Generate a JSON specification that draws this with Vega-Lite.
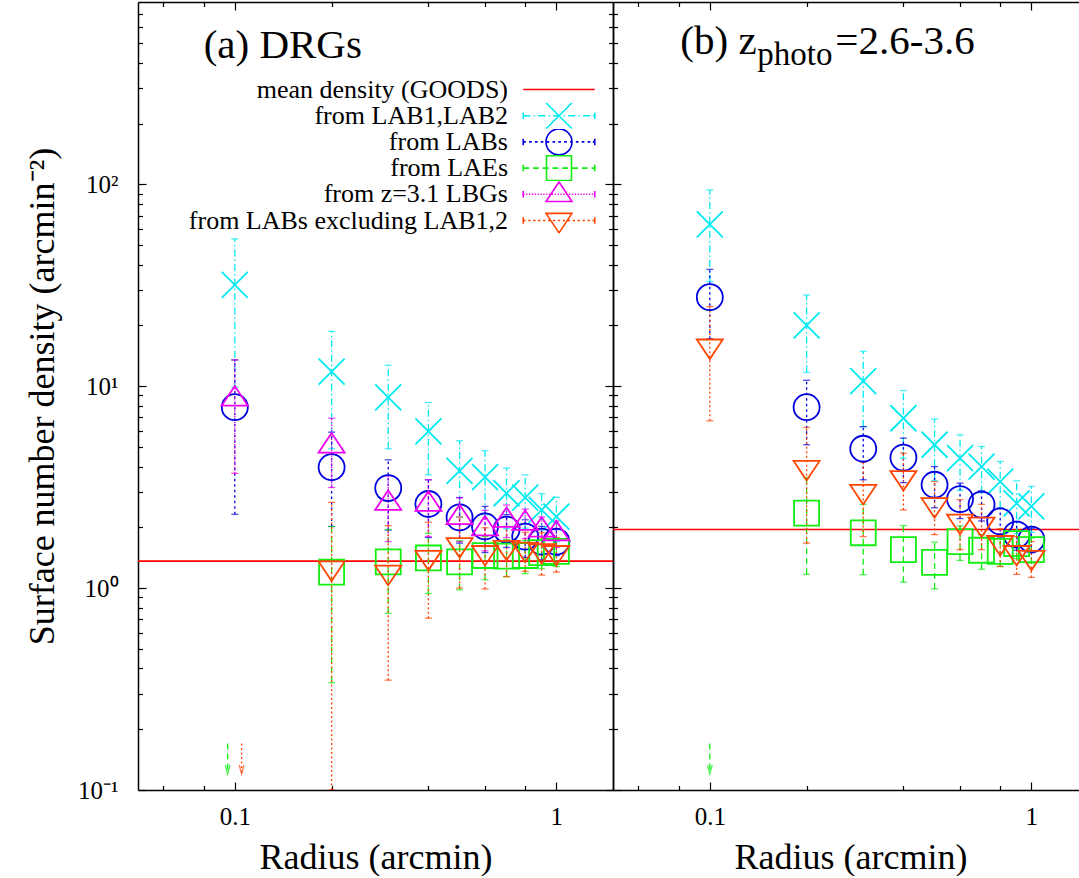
{
  "$schema": "https://vega.github.io/schema/vega-lite/v6.json",
  "background": "white",
  "padding": {"left": 24, "top": 1, "right": 0, "bottom": 0},
  "autosize": {"type": "pad"},
  "spacing": 0,
  "bounds": "flush",
  "datasets": {
    "mean": [
      {"p": "a", "s": "mean density (GOODS)", "n": 1.36},
      {"p": "b", "s": "mean density (GOODS)", "n": 1.95}
    ],
    "arrows": [
      {"p": "a", "s": "from LAEs", "r": 0.095, "top": 0.17, "tip": 0.12},
      {"p": "a", "s": "from LABs excluding LAB1,2", "r": 0.105, "top": 0.17, "tip": 0.12},
      {"p": "b", "s": "from LAEs", "r": 0.1, "top": 0.17, "tip": 0.12}
    ],
    "pts": [
      {"p": "a", "s": "from LAB1,LAB2", "r": 0.1, "n": 31.8, "lo": 9.9, "hi": 53.7},
      {"p": "a", "s": "from LAB1,LAB2", "r": 0.2, "n": 11.8, "lo": 4.9, "hi": 18.7},
      {"p": "a", "s": "from LAB1,LAB2", "r": 0.3, "n": 8.8, "lo": 4.9, "hi": 12.7},
      {"p": "a", "s": "from LAB1,LAB2", "r": 0.4, "n": 5.97, "lo": 3.64, "hi": 8.3},
      {"p": "a", "s": "from LAB1,LAB2", "r": 0.5, "n": 3.81, "lo": 2.25, "hi": 5.37},
      {"p": "a", "s": "from LAB1,LAB2", "r": 0.6, "n": 3.55, "lo": 2.31, "hi": 4.79},
      {"p": "a", "s": "from LAB1,LAB2", "r": 0.7, "n": 2.95, "lo": 1.97, "hi": 3.93},
      {"p": "a", "s": "from LAB1,LAB2", "r": 0.8, "n": 2.81, "lo": 1.98, "hi": 3.64},
      {"p": "a", "s": "from LAB1,LAB2", "r": 0.9, "n": 2.44, "lo": 1.94, "hi": 2.94},
      {"p": "a", "s": "from LAB1,LAB2", "r": 1.0, "n": 2.26, "lo": 1.7, "hi": 2.82},
      {"p": "a", "s": "from LABs", "r": 0.1, "n": 7.87, "lo": 2.32, "hi": 13.5},
      {"p": "a", "s": "from LABs", "r": 0.2, "n": 3.97, "lo": 2.02, "hi": 5.92},
      {"p": "a", "s": "from LABs", "r": 0.3, "n": 3.13, "lo": 1.94, "hi": 4.32},
      {"p": "a", "s": "from LABs", "r": 0.4, "n": 2.61, "lo": 1.78, "hi": 3.44},
      {"p": "a", "s": "from LABs", "r": 0.5, "n": 2.24, "lo": 1.67, "hi": 2.81},
      {"p": "a", "s": "from LABs", "r": 0.6, "n": 2.02, "lo": 1.5, "hi": 2.54},
      {"p": "a", "s": "from LABs", "r": 0.7, "n": 1.95, "lo": 1.59, "hi": 2.31},
      {"p": "a", "s": "from LABs", "r": 0.8, "n": 1.8, "lo": 1.42, "hi": 2.18},
      {"p": "a", "s": "from LABs", "r": 0.9, "n": 1.7, "lo": 1.38, "hi": 2.02},
      {"p": "a", "s": "from LABs", "r": 1.0, "n": 1.7, "lo": 1.45, "hi": 1.95},
      {"p": "a", "s": "from LAEs", "r": 0.2, "n": 1.2, "lo": 0.34, "hi": 2.02},
      {"p": "a", "s": "from LAEs", "r": 0.3, "n": 1.35, "lo": 0.75, "hi": 1.95},
      {"p": "a", "s": "from LAEs", "r": 0.4, "n": 1.41, "lo": 0.94, "hi": 1.87},
      {"p": "a", "s": "from LAEs", "r": 0.5, "n": 1.35, "lo": 0.98, "hi": 1.72},
      {"p": "a", "s": "from LAEs", "r": 0.6, "n": 1.45, "lo": 1.1, "hi": 1.8},
      {"p": "a", "s": "from LAEs", "r": 0.7, "n": 1.44, "lo": 1.14, "hi": 1.74},
      {"p": "a", "s": "from LAEs", "r": 0.8, "n": 1.45, "lo": 1.18, "hi": 1.72},
      {"p": "a", "s": "from LAEs", "r": 0.9, "n": 1.5, "lo": 1.25, "hi": 1.75},
      {"p": "a", "s": "from LAEs", "r": 1.0, "n": 1.52, "lo": 1.28, "hi": 1.76},
      {"p": "a", "s": "from z=3.1 LBGs", "r": 0.1, "n": 8.7, "lo": 3.7, "hi": 13.5},
      {"p": "a", "s": "from z=3.1 LBGs", "r": 0.2, "n": 5.09, "lo": 3.15, "hi": 6.94},
      {"p": "a", "s": "from z=3.1 LBGs", "r": 0.3, "n": 2.65, "lo": 1.7, "hi": 3.6},
      {"p": "a", "s": "from z=3.1 LBGs", "r": 0.4, "n": 2.62, "lo": 1.8, "hi": 3.44},
      {"p": "a", "s": "from z=3.1 LBGs", "r": 0.5, "n": 2.25, "lo": 1.7, "hi": 2.8},
      {"p": "a", "s": "from z=3.1 LBGs", "r": 0.6, "n": 1.98, "lo": 1.53, "hi": 2.43},
      {"p": "a", "s": "from z=3.1 LBGs", "r": 0.7, "n": 2.18, "lo": 1.78, "hi": 2.58},
      {"p": "a", "s": "from z=3.1 LBGs", "r": 0.8, "n": 2.11, "lo": 1.76, "hi": 2.46},
      {"p": "a", "s": "from z=3.1 LBGs", "r": 0.9, "n": 1.95, "lo": 1.65, "hi": 2.25},
      {"p": "a", "s": "from z=3.1 LBGs", "r": 1.0, "n": 1.87, "lo": 1.59, "hi": 2.15},
      {"p": "a", "s": "from LABs excluding LAB1,2", "r": 0.2, "n": 1.25, "lo": 0.1, "hi": 2.66},
      {"p": "a", "s": "from LABs excluding LAB1,2", "r": 0.3, "n": 1.19, "lo": 0.35, "hi": 2.04},
      {"p": "a", "s": "from LABs excluding LAB1,2", "r": 0.4, "n": 1.41, "lo": 0.71, "hi": 2.12},
      {"p": "a", "s": "from LABs excluding LAB1,2", "r": 0.5, "n": 1.63, "lo": 1.0, "hi": 2.25},
      {"p": "a", "s": "from LABs excluding LAB1,2", "r": 0.6, "n": 1.49, "lo": 0.99, "hi": 1.99},
      {"p": "a", "s": "from LABs excluding LAB1,2", "r": 0.7, "n": 1.58, "lo": 1.14, "hi": 2.02},
      {"p": "a", "s": "from LABs excluding LAB1,2", "r": 0.8, "n": 1.55, "lo": 1.21, "hi": 1.89},
      {"p": "a", "s": "from LABs excluding LAB1,2", "r": 0.9, "n": 1.52, "lo": 1.16, "hi": 1.88},
      {"p": "a", "s": "from LABs excluding LAB1,2", "r": 1.0, "n": 1.49, "lo": 1.2, "hi": 1.78},
      {"p": "b", "s": "from LAB1,LAB2", "r": 0.1, "n": 63.4, "lo": 33, "hi": 93.8},
      {"p": "b", "s": "from LAB1,LAB2", "r": 0.2, "n": 20, "lo": 11.7, "hi": 28.3},
      {"p": "b", "s": "from LAB1,LAB2", "r": 0.3, "n": 10.6, "lo": 6.3, "hi": 14.9},
      {"p": "b", "s": "from LAB1,LAB2", "r": 0.4, "n": 6.94, "lo": 4.4, "hi": 9.52},
      {"p": "b", "s": "from LAB1,LAB2", "r": 0.5, "n": 5.13, "lo": 3.4, "hi": 6.87},
      {"p": "b", "s": "from LAB1,LAB2", "r": 0.6, "n": 4.4, "lo": 3.05, "hi": 5.75},
      {"p": "b", "s": "from LAB1,LAB2", "r": 0.7, "n": 4.0, "lo": 2.97, "hi": 5.03},
      {"p": "b", "s": "from LAB1,LAB2", "r": 0.8, "n": 3.37, "lo": 2.5, "hi": 4.24},
      {"p": "b", "s": "from LAB1,LAB2", "r": 0.9, "n": 2.63, "lo": 1.86, "hi": 3.4},
      {"p": "b", "s": "from LAB1,LAB2", "r": 1.0, "n": 2.54, "lo": 1.89, "hi": 3.19},
      {"p": "b", "s": "from LABs", "r": 0.1, "n": 27.6, "lo": 17.2, "hi": 37.9},
      {"p": "b", "s": "from LABs", "r": 0.2, "n": 7.87, "lo": 5.13, "hi": 10.7},
      {"p": "b", "s": "from LABs", "r": 0.3, "n": 4.9, "lo": 3.44, "hi": 6.31},
      {"p": "b", "s": "from LABs", "r": 0.4, "n": 4.43, "lo": 3.33, "hi": 5.53},
      {"p": "b", "s": "from LABs", "r": 0.5, "n": 3.25, "lo": 2.5, "hi": 4.0},
      {"p": "b", "s": "from LABs", "r": 0.6, "n": 2.76, "lo": 2.21, "hi": 3.31},
      {"p": "b", "s": "from LABs", "r": 0.7, "n": 2.59, "lo": 2.15, "hi": 3.03},
      {"p": "b", "s": "from LABs", "r": 0.8, "n": 2.14, "lo": 1.79, "hi": 2.49},
      {"p": "b", "s": "from LABs", "r": 0.9, "n": 1.84, "lo": 1.54, "hi": 2.14},
      {"p": "b", "s": "from LABs", "r": 1.0, "n": 1.74, "lo": 1.5, "hi": 1.98},
      {"p": "b", "s": "from LAEs", "r": 0.2, "n": 2.35, "lo": 1.17, "hi": 3.53},
      {"p": "b", "s": "from LAEs", "r": 0.3, "n": 1.88, "lo": 1.165, "hi": 2.6},
      {"p": "b", "s": "from LAEs", "r": 0.4, "n": 1.55, "lo": 1.07, "hi": 2.04},
      {"p": "b", "s": "from LAEs", "r": 0.5, "n": 1.34, "lo": 0.99, "hi": 1.69},
      {"p": "b", "s": "from LAEs", "r": 0.6, "n": 1.7, "lo": 1.37, "hi": 2.03},
      {"p": "b", "s": "from LAEs", "r": 0.7, "n": 1.54, "lo": 1.24, "hi": 1.84},
      {"p": "b", "s": "from LAEs", "r": 0.8, "n": 1.52, "lo": 1.28, "hi": 1.76},
      {"p": "b", "s": "from LAEs", "r": 0.9, "n": 1.66, "lo": 1.4, "hi": 1.92},
      {"p": "b", "s": "from LAEs", "r": 1.0, "n": 1.55, "lo": 1.33, "hi": 1.77},
      {"p": "b", "s": "from LABs excluding LAB1,2", "r": 0.1, "n": 15.7, "lo": 6.74, "hi": 24.8},
      {"p": "b", "s": "from LABs excluding LAB1,2", "r": 0.2, "n": 3.93, "lo": 1.67, "hi": 6.25},
      {"p": "b", "s": "from LABs excluding LAB1,2", "r": 0.3, "n": 2.99, "lo": 1.8, "hi": 4.2},
      {"p": "b", "s": "from LABs excluding LAB1,2", "r": 0.4, "n": 3.5, "lo": 2.44, "hi": 4.66},
      {"p": "b", "s": "from LABs excluding LAB1,2", "r": 0.5, "n": 2.57, "lo": 1.84, "hi": 3.37},
      {"p": "b", "s": "from LABs excluding LAB1,2", "r": 0.6, "n": 2.13, "lo": 1.55, "hi": 2.74},
      {"p": "b", "s": "from LABs excluding LAB1,2", "r": 0.7, "n": 2.06, "lo": 1.55, "hi": 2.6},
      {"p": "b", "s": "from LABs excluding LAB1,2", "r": 0.8, "n": 1.67, "lo": 1.28, "hi": 1.97},
      {"p": "b", "s": "from LABs excluding LAB1,2", "r": 0.9, "n": 1.49, "lo": 1.17, "hi": 1.8},
      {"p": "b", "s": "from LABs excluding LAB1,2", "r": 1.0, "n": 1.41, "lo": 1.13, "hi": 1.7}
    ]
  },
  "hconcat": [
    {
      "width": 475,
      "height": 788,
      "layer": [
        {
          "data": {"name": "mean"},
          "transform": [{"filter": "datum.p == 'a'"}],
          "mark": {"type": "rule", "strokeWidth": 1.6, "clip": true},
          "encoding": {
            "y": {"field": "n", "type": "quantitative", "scale": {"type": "log", "domain": [0.1, 800], "nice": false}, "axis": null},
            "color": {
              "field": "s", "type": "nominal",
              "scale": {"domain": ["mean density (GOODS)", "from LAB1,LAB2", "from LABs", "from LAEs", "from z=3.1 LBGs", "from LABs excluding LAB1,2"], "range": ["#ff0000", "#00eaf2", "#0000e0", "#11ee11", "#ee00ee", "#ff4500"]},
              "legend": {
                "orient": "none", "legendX": 381, "legendY": 74.5, "title": null,
                "labelFont": "Liberation Serif", "labelFontSize": 26, "labelColor": "black", "labelLimit": 0,
                "labelAlign": "right", "labelOffset": -39, "rowPadding": 0.2, "clipHeight": 26, "symbolSize": 676, "symbolStrokeWidth": 1.6,
                "encode": {
                  "entries": {"update": {"width": {"value": 110}}},
                  "symbols": {
                    "update": {
                      "fillOpacity": {"value": 0},
                      "shape": {"signal": "datum.value === 'mean density (GOODS)' ? 'M-0.75,0H4.75' : datum.value === 'from LAB1,LAB2' ? 'M-0.75,0H-0.2M0.05,0H0.15M0.4,0H0.95M1.2,0H1.3M1.55,0H2.1M2.35,0H2.45M2.7,0H3.25M3.5,0H3.6M3.85,0H4.4M4.6,0H4.75M-0.75,-0.25V0.25M4.75,-0.25V0.25M1,-1L3,1M1,1L3,-1' : datum.value === 'from LABs' ? 'M-0.75,0H-0.55M-0.3,0H-0.1M0.15,0H0.35M0.6,0H0.8M1.05,0H1.25M1.5,0H1.7M1.95,0H2.15M2.4,0H2.6M2.85,0H3.05M3.3,0H3.5M3.75,0H3.95M4.2,0H4.4M4.6,0H4.75M-0.75,-0.25V0.25M4.75,-0.25V0.25M3,0A1,1 0 1,1 1,0A1,1 0 1,1 3,0' : datum.value === 'from LAEs' ? 'M-0.75,0H-0.3M0,0H0.45M0.75,0H1.2M1.5,0H1.95M2.25,0H2.7M3,0H3.45M3.75,0H4.2M4.5,0H4.75M-0.75,-0.25V0.25M4.75,-0.25V0.25M1.04,-0.96H2.96V0.96H1.04Z' : datum.value === 'from z=3.1 LBGs' ? 'M-0.75,0H-0.65M-0.53,0H-0.43M-0.31,0H-0.21M-0.09,0H0.01M0.13,0H0.23M0.35,0H0.45M0.57,0H0.67M0.79,0H0.89M1.01,0H1.11M1.23,0H1.33M1.45,0H1.55M1.67,0H1.77M1.89,0H1.99M2.11,0H2.21M2.33,0H2.43M2.55,0H2.65M2.77,0H2.87M2.99,0H3.09M3.21,0H3.31M3.43,0H3.53M3.65,0H3.75M3.87,0H3.97M4.09,0H4.19M4.31,0H4.41M4.53,0H4.63M-0.75,-0.25V0.25M4.75,-0.25V0.25M2,-0.95L1,0.55L3,0.55Z' : 'M-0.75,0H-0.57M-0.37,0H-0.19M0.01,0H0.19M0.39,0H0.57M0.77,0H0.95M1.15,0H1.33M1.53,0H1.71M1.91,0H2.09M2.29,0H2.47M2.67,0H2.85M3.05,0H3.23M3.43,0H3.61M3.81,0H3.99M4.19,0H4.37M4.57,0H4.75M-0.75,-0.25V0.25M4.75,-0.25V0.25M2,0.95L1,-0.55L3,-0.55Z'"}
                    }
                  }
                }
              }
            }
          }
        },
        {
          "data": {"name": "pts"},
          "transform": [{"filter": "datum.p == 'a'"}],
          "mark": {"type": "rule", "strokeWidth": 1.3, "clip": true},
          "encoding": {
            "x": {"field": "r", "type": "quantitative", "scale": {"type": "log", "domain": [0.05, 1.5], "nice": false},
              "axis": {"orient": "bottom", "values": [0.06, 0.08, 0.1, 0.2, 0.4, 0.6, 0.8, 1], "labelExpr": "datum.value == 0.1 ? '0.1' : datum.value == 1 ? '1' : ''", "tickSize": {"condition": {"test": "datum.value == 0.1 || datum.value == 1", "value": -8}, "value": -4.5}, "labelPadding": 22, "title": "Radius (arcmin)", "titlePadding": 8}},
            "y": {"field": "lo", "type": "quantitative",
              "axis": {"orient": "left", "values": [0.1, 0.2, 0.3, 0.4, 0.5, 0.6, 0.7, 0.8, 0.9, 1, 2, 3, 4, 5, 6, 7, 8, 9, 10, 20, 30, 40, 50, 60, 70, 80, 90, 100, 200, 300, 400, 500, 600, 700], "labelExpr": "datum.value == 0.1 ? '10⁻¹' : datum.value == 1 ? '10⁰' : datum.value == 10 ? '10¹' : datum.value == 100 ? '10²' : ''", "tickSize": {"condition": {"test": "datum.value == 0.1 || datum.value == 1 || datum.value == 10 || datum.value == 100", "value": -8}, "value": -4.5}, "labelPadding": 28, "title": "Surface number density (arcmin⁻²)", "titlePadding": 16}},
            "y2": {"field": "hi"},
            "color": {"field": "s", "type": "nominal", "legend": null},
            "strokeDash": {"field": "s", "type": "nominal", "legend": null,
              "scale": {"domain": ["from LAB1,LAB2", "from LABs", "from LAEs", "from z=3.1 LBGs", "from LABs excluding LAB1,2"], "range": [[7, 3, 1.5, 3], [2.5, 3], [6, 4], [1.3, 1.5], [2, 2.5]]}}
          }
        },
        {
          "data": {"name": "pts"},
          "transform": [{"filter": "datum.p == 'a'"}],
          "mark": {"type": "tick", "orient": "horizontal", "size": 7, "thickness": 1.3, "clip": true},
          "encoding": {
            "x": {"field": "r", "type": "quantitative", "axis": null},
            "y": {"field": "lo", "type": "quantitative", "axis": null},
            "color": {"field": "s", "type": "nominal", "legend": null}
          }
        },
        {
          "data": {"name": "pts"},
          "transform": [{"filter": "datum.p == 'a'"}],
          "mark": {"type": "tick", "orient": "horizontal", "size": 7, "thickness": 1.3, "clip": true},
          "encoding": {
            "x": {"field": "r", "type": "quantitative", "axis": null},
            "y": {"field": "hi", "type": "quantitative", "axis": null},
            "color": {"field": "s", "type": "nominal", "legend": null}
          }
        },
        {
          "data": {"name": "arrows"},
          "transform": [{"filter": "datum.p == 'a'"}],
          "mark": {"type": "rule", "strokeWidth": 1.3, "clip": true},
          "encoding": {
            "x": {"field": "r", "type": "quantitative", "axis": null},
            "y": {"field": "top", "type": "quantitative", "axis": null},
            "y2": {"field": "tip"},
            "color": {"field": "s", "type": "nominal", "legend": null},
            "strokeDash": {"field": "s", "type": "nominal", "legend": null}
          }
        },
        {
          "data": {"name": "arrows"},
          "transform": [{"filter": "datum.p == 'a'"}],
          "mark": {"type": "point", "filled": false, "size": 36, "strokeWidth": 1.3, "shape": "M-0.8,-3L0,0L0.8,-3", "clip": true},
          "encoding": {
            "x": {"field": "r", "type": "quantitative", "axis": null},
            "y": {"field": "tip", "type": "quantitative", "axis": null},
            "color": {"field": "s", "type": "nominal", "legend": null}
          }
        },
        {
          "data": {"name": "pts"},
          "transform": [{"filter": "datum.p == 'a'"}],
          "mark": {"type": "point", "filled": false, "size": 676, "strokeWidth": 1.8, "opacity": 1, "clip": true},
          "encoding": {
            "x": {"field": "r", "type": "quantitative", "axis": {"orient": "top", "values": [0.06, 0.08, 0.1, 0.2, 0.4, 0.6, 0.8, 1], "labels": false, "title": null, "tickSize": {"condition": {"test": "datum.value == 0.1 || datum.value == 1", "value": -8}, "value": -4.5}}},
            "y": {"field": "n", "type": "quantitative", "axis": {"orient": "right", "values": [0.1, 0.2, 0.3, 0.4, 0.5, 0.6, 0.7, 0.8, 0.9, 1, 2, 3, 4, 5, 6, 7, 8, 9, 10, 20, 30, 40, 50, 60, 70, 80, 90, 100, 200, 300, 400, 500, 600, 700], "labels": false, "title": null, "tickSize": {"condition": {"test": "datum.value == 0.1 || datum.value == 1 || datum.value == 10 || datum.value == 100", "value": -8}, "value": -4.5}}},
            "color": {"field": "s", "type": "nominal", "legend": null},
            "shape": {"field": "s", "type": "nominal", "legend": null,
              "scale": {"domain": ["from LAB1,LAB2", "from LABs", "from LAEs", "from z=3.1 LBGs", "from LABs excluding LAB1,2"], "range": ["M-1,-1L1,1M-1,1L1,-1", "circle", "M-0.96,-0.96H0.96V0.96H-0.96Z", "M0,-0.95L-1,0.55L1,0.55Z", "M0,0.95L-1,-0.55L1,-0.55Z"]}}
          }
        },
        {
          "data": {"name": "mean"},
          "transform": [{"filter": "datum.p == 'a'"}],
          "mark": {"type": "text", "text": "(a) DRGs", "align": "left", "baseline": "alphabetic", "font": "Liberation Serif", "fontSize": 41, "color": "black"},
          "encoding": {
            "x": {"datum": 0.08, "type": "quantitative", "axis": null},
            "y": {"datum": 422, "type": "quantitative", "axis": null}
          }
        }
      ],
      "resolve": {"axis": {"x": "independent", "y": "independent"}}
    },
    {
      "width": 475,
      "height": 788,
      "layer": [
        {
          "data": {"name": "mean"},
          "transform": [{"filter": "datum.p == 'b'"}],
          "mark": {"type": "rule", "strokeWidth": 1.6, "clip": true},
          "encoding": {
            "y": {"field": "n", "type": "quantitative", "scale": {"type": "log", "domain": [0.1, 800], "nice": false}, "axis": null},
            "color": {"field": "s", "type": "nominal", "legend": null,
              "scale": {"domain": ["mean density (GOODS)", "from LAB1,LAB2", "from LABs", "from LAEs", "from z=3.1 LBGs", "from LABs excluding LAB1,2"], "range": ["#ff0000", "#00eaf2", "#0000e0", "#11ee11", "#ee00ee", "#ff4500"]}}
          }
        },
        {
          "data": {"name": "pts"},
          "transform": [{"filter": "datum.p == 'b'"}],
          "mark": {"type": "rule", "strokeWidth": 1.3, "clip": true},
          "encoding": {
            "x": {"field": "r", "type": "quantitative", "scale": {"type": "log", "domain": [0.05, 1.5], "nice": false},
              "axis": {"orient": "bottom", "values": [0.06, 0.08, 0.1, 0.2, 0.4, 0.6, 0.8, 1], "labelExpr": "datum.value == 0.1 ? '0.1' : datum.value == 1 ? '1' : ''", "tickSize": {"condition": {"test": "datum.value == 0.1 || datum.value == 1", "value": -8}, "value": -4.5}, "labelPadding": 22, "title": "Radius (arcmin)", "titlePadding": 8}},
            "y": {"field": "lo", "type": "quantitative",
              "axis": {"orient": "left", "values": [0.1, 0.2, 0.3, 0.4, 0.5, 0.6, 0.7, 0.8, 0.9, 1, 2, 3, 4, 5, 6, 7, 8, 9, 10, 20, 30, 40, 50, 60, 70, 80, 90, 100, 200, 300, 400, 500, 600, 700], "labels": false, "title": null, "tickSize": {"condition": {"test": "datum.value == 0.1 || datum.value == 1 || datum.value == 10 || datum.value == 100", "value": -8}, "value": -4.5}}},
            "y2": {"field": "hi"},
            "color": {"field": "s", "type": "nominal", "legend": null},
            "strokeDash": {"field": "s", "type": "nominal", "legend": null,
              "scale": {"domain": ["from LAB1,LAB2", "from LABs", "from LAEs", "from z=3.1 LBGs", "from LABs excluding LAB1,2"], "range": [[7, 3, 1.5, 3], [2.5, 3], [6, 4], [1.3, 1.5], [2, 2.5]]}}
          }
        },
        {
          "data": {"name": "pts"},
          "transform": [{"filter": "datum.p == 'b'"}],
          "mark": {"type": "tick", "orient": "horizontal", "size": 7, "thickness": 1.3, "clip": true},
          "encoding": {
            "x": {"field": "r", "type": "quantitative", "axis": null},
            "y": {"field": "lo", "type": "quantitative", "axis": null},
            "color": {"field": "s", "type": "nominal", "legend": null}
          }
        },
        {
          "data": {"name": "pts"},
          "transform": [{"filter": "datum.p == 'b'"}],
          "mark": {"type": "tick", "orient": "horizontal", "size": 7, "thickness": 1.3, "clip": true},
          "encoding": {
            "x": {"field": "r", "type": "quantitative", "axis": null},
            "y": {"field": "hi", "type": "quantitative", "axis": null},
            "color": {"field": "s", "type": "nominal", "legend": null}
          }
        },
        {
          "data": {"name": "arrows"},
          "transform": [{"filter": "datum.p == 'b'"}],
          "mark": {"type": "rule", "strokeWidth": 1.3, "clip": true},
          "encoding": {
            "x": {"field": "r", "type": "quantitative", "axis": null},
            "y": {"field": "top", "type": "quantitative", "axis": null},
            "y2": {"field": "tip"},
            "color": {"field": "s", "type": "nominal", "legend": null},
            "strokeDash": {"field": "s", "type": "nominal", "legend": null}
          }
        },
        {
          "data": {"name": "arrows"},
          "transform": [{"filter": "datum.p == 'b'"}],
          "mark": {"type": "point", "filled": false, "size": 36, "strokeWidth": 1.3, "shape": "M-0.8,-3L0,0L0.8,-3", "clip": true},
          "encoding": {
            "x": {"field": "r", "type": "quantitative", "axis": null},
            "y": {"field": "tip", "type": "quantitative", "axis": null},
            "color": {"field": "s", "type": "nominal", "legend": null}
          }
        },
        {
          "data": {"name": "pts"},
          "transform": [{"filter": "datum.p == 'b'"}],
          "mark": {"type": "point", "filled": false, "size": 676, "strokeWidth": 1.8, "opacity": 1, "clip": true},
          "encoding": {
            "x": {"field": "r", "type": "quantitative", "axis": {"orient": "top", "values": [0.06, 0.08, 0.1, 0.2, 0.4, 0.6, 0.8, 1], "labels": false, "title": null, "tickSize": {"condition": {"test": "datum.value == 0.1 || datum.value == 1", "value": -8}, "value": -4.5}}},
            "y": {"field": "n", "type": "quantitative", "axis": {"orient": "right", "values": [0.1, 0.2, 0.3, 0.4, 0.5, 0.6, 0.7, 0.8, 0.9, 1, 2, 3, 4, 5, 6, 7, 8, 9, 10, 20, 30, 40, 50, 60, 70, 80, 90, 100, 200, 300, 400, 500, 600, 700], "labels": false, "title": null, "tickSize": {"condition": {"test": "datum.value == 0.1 || datum.value == 1 || datum.value == 10 || datum.value == 100", "value": -8}, "value": -4.5}}},
            "color": {"field": "s", "type": "nominal", "legend": null},
            "shape": {"field": "s", "type": "nominal", "legend": null,
              "scale": {"domain": ["from LAB1,LAB2", "from LABs", "from LAEs", "from z=3.1 LBGs", "from LABs excluding LAB1,2"], "range": ["M-1,-1L1,1M-1,1L1,-1", "circle", "M-0.96,-0.96H0.96V0.96H-0.96Z", "M0,-0.95L-1,0.55L1,0.55Z", "M0,0.95L-1,-0.55L1,-0.55Z"]}}
          }
        },
        {
          "data": {"name": "mean"},
          "transform": [{"filter": "datum.p == 'b'"}],
          "mark": {"type": "text", "text": "(b) z", "align": "left", "baseline": "alphabetic", "font": "Liberation Serif", "fontSize": 41, "color": "black"},
          "encoding": {
            "x": {"datum": 0.081, "type": "quantitative", "axis": null},
            "y": {"datum": 442, "type": "quantitative", "axis": null}
          }
        },
        {
          "data": {"name": "mean"},
          "transform": [{"filter": "datum.p == 'b'"}],
          "mark": {"type": "text", "text": "photo", "align": "left", "baseline": "alphabetic", "font": "Liberation Serif", "fontSize": 33, "color": "black", "dx": 77, "dy": 11},
          "encoding": {
            "x": {"datum": 0.081, "type": "quantitative", "axis": null},
            "y": {"datum": 442, "type": "quantitative", "axis": null}
          }
        },
        {
          "data": {"name": "mean"},
          "transform": [{"filter": "datum.p == 'b'"}],
          "mark": {"type": "text", "text": "=2.6-3.6", "align": "left", "baseline": "alphabetic", "font": "Liberation Serif", "fontSize": 41, "color": "black", "dx": 155},
          "encoding": {
            "x": {"datum": 0.081, "type": "quantitative", "axis": null},
            "y": {"datum": 442, "type": "quantitative", "axis": null}
          }
        }
      ],
      "resolve": {"axis": {"x": "independent", "y": "independent"}}
    }
  ],
  "resolve": {"scale": {"color": "independent", "shape": "independent", "strokeDash": "independent"}},
  "config": {
    "view": {"stroke": null},
    "font": "Liberation Serif",
    "axis": {"labelFont": "Liberation Serif", "labelFontSize": 25, "labelColor": "black", "titleFont": "Liberation Serif", "titleFontSize": 36, "titleFontWeight": "normal", "titleColor": "black", "domainColor": "black", "domainWidth": 1.5, "tickColor": "black", "tickWidth": 1.2, "grid": false, "labelOverlap": false, "labelFlush": false, "labelBound": false}
  }
}
